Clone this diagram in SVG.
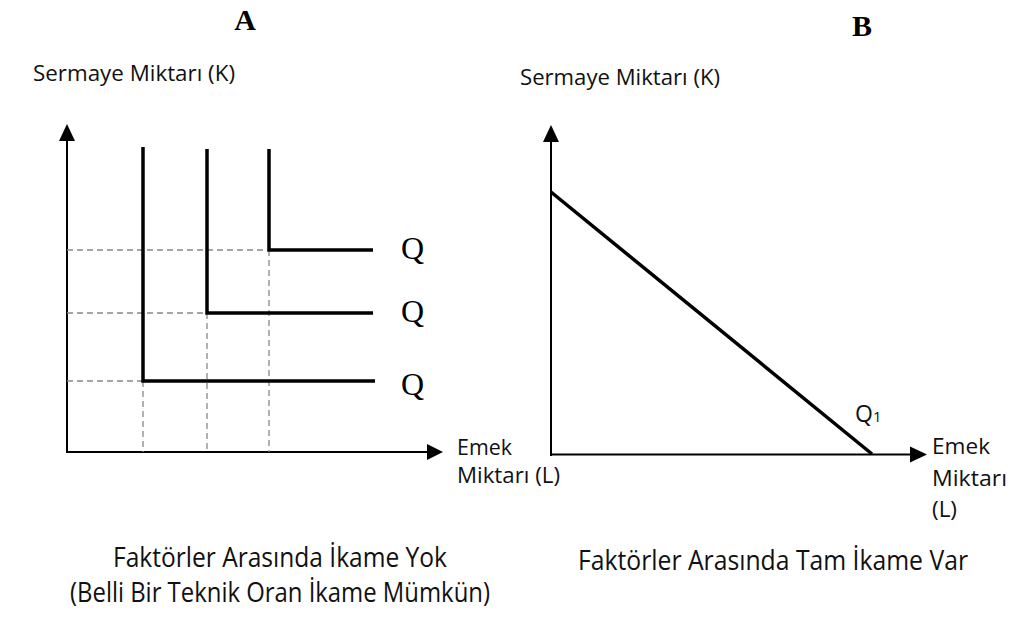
<svg xmlns="http://www.w3.org/2000/svg" width="1024" height="624" viewBox="0 0 1024 624">
<style>
.lbl{font-family:"Open Sans","Noto Sans","Liberation Sans",sans-serif;fill:#111;}
.ttl{font-family:"Liberation Serif","Times New Roman",serif;font-weight:bold;font-size:30px;fill:#000;}
.q{font-family:"Liberation Serif","Times New Roman",serif;font-size:32px;fill:#000;}
.axis{stroke:#000;stroke-width:2;fill:none;}
.curve{stroke:#000;stroke-width:3.5;fill:none;}
.dash{stroke:#888;stroke-width:1.3;stroke-dasharray:6 4;fill:none;}
.head{fill:#000;}
</style>
<rect width="1024" height="624" fill="#fff"/>

<g id="panelA">
  <text class="ttl" x="245" y="30" text-anchor="middle">A</text>
  <text class="lbl" x="33" y="81" font-size="22" textLength="202" lengthAdjust="spacingAndGlyphs">Sermaye Miktarı (K)</text>
  <g id="axesA">
    <line class="axis" x1="67" y1="453" x2="67" y2="140"/>
    <polygon class="head" points="67,124 59,141 75,141"/>
    <line class="axis" x1="66" y1="452" x2="428" y2="452"/>
    <polygon class="head" points="443,452 427,444 427,460"/>
  </g>
  <g id="guidesA">
    <path class="dash" d="M67 250H269M67 313H207M67 381H143"/>
    <path class="dash" d="M143 381V452M207 313V452M269 250V452"/>
  </g>
  <g id="isoquant1"><path class="curve" d="M143 147V381H375"/><text class="q" x="401" y="395">Q</text></g>
  <g id="isoquant2"><path class="curve" d="M207 149V313H373"/><text class="q" x="401" y="322">Q</text></g>
  <g id="isoquant3"><path class="curve" d="M269 149V250H373"/><text class="q" x="401" y="259">Q</text></g>
  <text class="lbl" x="457" y="455" font-size="21" textLength="55" lengthAdjust="spacingAndGlyphs">Emek</text>
  <text class="lbl" x="457" y="483" font-size="21" textLength="103" lengthAdjust="spacingAndGlyphs">Miktarı (L)</text>
  <text class="lbl" x="113" y="567" font-size="27" textLength="334" lengthAdjust="spacingAndGlyphs">Faktörler Arasında İkame Yok</text>
  <text class="lbl" x="70" y="602" font-size="27" textLength="420" lengthAdjust="spacingAndGlyphs">(Belli Bir Teknik Oran İkame Mümkün)</text>
</g>

<g id="panelB">
  <text class="ttl" x="862" y="36" text-anchor="middle">B</text>
  <text class="lbl" x="520" y="85" font-size="22" textLength="200" lengthAdjust="spacingAndGlyphs">Sermaye Miktarı (K)</text>
  <g id="axesB">
    <line class="axis" x1="551" y1="456" x2="551" y2="141"/>
    <polygon class="head" points="551,125 543,142 559,142"/>
    <line class="axis" x1="550" y1="454.5" x2="833" y2="454.5" stroke-width="2.5"/>
    <line class="axis" x1="833" y1="454.5" x2="911" y2="454.5" stroke-width="1.5"/>
    <polygon class="head" points="927,454.5 910,446.5 910,462.5"/>
  </g>
  <g id="isoquantB">
    <line class="curve" x1="551" y1="192" x2="872" y2="454" stroke-width="3"/>
    <text class="lbl" x="855" y="422" font-size="23">Q<tspan font-size="15">1</tspan></text>
  </g>
  <text class="lbl" x="932" y="454" font-size="21" textLength="58" lengthAdjust="spacingAndGlyphs">Emek</text>
  <text class="lbl" x="932" y="486" font-size="21" textLength="75" lengthAdjust="spacingAndGlyphs">Miktarı</text>
  <text class="lbl" x="932" y="517" font-size="21" textLength="25" lengthAdjust="spacingAndGlyphs">(L)</text>
  <text class="lbl" x="578" y="570" font-size="27" textLength="390" lengthAdjust="spacingAndGlyphs">Faktörler Arasında Tam İkame Var</text>
</g>
</svg>
